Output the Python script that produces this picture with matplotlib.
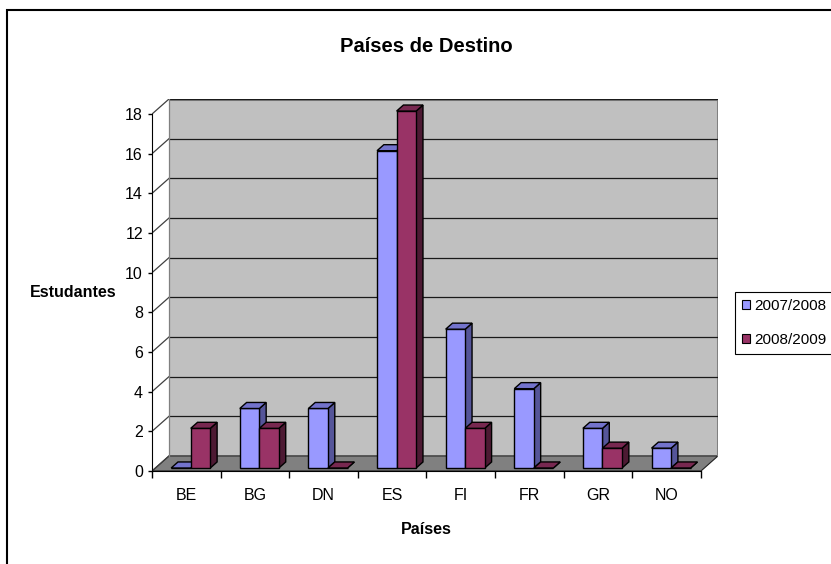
import matplotlib.pyplot as plt
from matplotlib.patches import Polygon, Rectangle, Patch

# ---------------------------------------------------------------------
# Data
# ---------------------------------------------------------------------
paises = ["BE", "BG", "DN", "ES", "FI", "FR", "GR", "NO"]
series_names = ["2007/2008", "2008/2009"]
v_2007 = [0, 3, 3, 16, 7, 4, 2, 1]
v_2008 = [2, 2, 0, 18, 2, 0, 1, 0]
yticks = list(range(0, 19, 2))

# face colours: front, top, side
blue_faces = ("#9999FF", "#7373CC", "#555599")
red_faces = ("#993366", "#772850", "#4D1A33")

# 3d look (in data units)
DX, DY = 0.248, 0.76       # depth offset of the back wall
D0, D1 = 0.2, 0.6          # depth range occupied by the bars
BAR_W = 0.285
GROUP_START = -0.27

plt.rcParams["font.family"] = ["Liberation Sans", "DejaVu Sans"]

fig = plt.figure(figsize=(8.31, 5.64), dpi=100)
ax = fig.add_axes([152 / 831, 1 - 471 / 564, 566 / 831, 372 / 564])
n = len(paises)
ymax = yticks[-1]
ax.set_xlim(0, n + DX)
ax.set_ylim(0, ymax + DY)
ax.patch.set_visible(False)


# ---------------------------------------------------------------------
# Walls, floor and gridlines
# ---------------------------------------------------------------------
floor = Polygon([(0, 0), (n, 0), (n + DX, DY), (DX, DY)], closed=True,
                facecolor="#808080", edgecolor="#202020", lw=0.8, zorder=1)
ax.add_patch(floor)
wall = Rectangle((DX, DY), n, ymax, facecolor="#C0C0C0", edgecolor="none", zorder=0)
ax.add_patch(wall)
ax.plot([DX, n + DX, n + DX], [ymax + DY, ymax + DY, DY], color="#808080",
        lw=2.2, zorder=1, solid_capstyle="butt")

for v in yticks:
    if v > 0:
        ax.plot([DX, n + DX], [v + DY, v + DY], color="#1a1a1a", lw=0.9, zorder=1)
    ax.plot([0, DX], [v, v + DY], color="#404040", lw=0.9, zorder=1)
ax.plot([DX, DX], [DY, ymax + DY], color="#808080", lw=0.9, zorder=1)


# ---------------------------------------------------------------------
# Bars
# ---------------------------------------------------------------------
def draw_bar(x0, h, faces):
    front_c, top_c, side_c = faces
    dd = D1 - D0
    fx, fy = x0 + D0 * DX, D0 * DY
    ex, ey = dd * DX, dd * DY
    kw = dict(edgecolor="black", lw=1.0, zorder=3, joinstyle="miter")
    side = Polygon([(fx + BAR_W, fy), (fx + BAR_W + ex, fy + ey),
                    (fx + BAR_W + ex, fy + h + ey), (fx + BAR_W, fy + h)],
                   facecolor=side_c, **kw)
    front = Rectangle((fx, fy), BAR_W, h, facecolor=front_c, **kw)
    top = Polygon([(fx, fy + h), (fx + BAR_W, fy + h),
                   (fx + BAR_W + ex, fy + h + ey), (fx + ex, fy + h + ey)],
                  facecolor=top_c, **kw)
    for p in (side, front, top):
        ax.add_patch(p)


for i in range(n):
    x_blue = i + 0.5 + GROUP_START
    draw_bar(x_blue, v_2007[i], blue_faces)
    draw_bar(x_blue + BAR_W, v_2008[i], red_faces)


# ---------------------------------------------------------------------
# Axes styling
# ---------------------------------------------------------------------
for side in ("top", "right"):
    ax.spines[side].set_visible(False)
ax.spines["left"].set_bounds(0, ymax)
ax.spines["bottom"].set_bounds(0, n)
ax.spines["left"].set_zorder(4)

ax.set_yticks(yticks)
ax.tick_params(axis="y", length=3, width=1, pad=3.5, labelsize=11.5)
ax.set_xticks(range(n + 1))
ax.set_xticklabels([])
ax.set_xticks([i + 0.5 for i in range(n)], minor=True)
ax.set_xticklabels(paises, minor=True)
ax.tick_params(axis="x", which="major", length=5, width=1)
ax.tick_params(axis="x", which="minor", length=0, pad=12.5, labelsize=11.5)

fig.text(426 / 831, 1 - 47 / 564, "Países de Destino", ha="center", va="center",
         fontsize=14.5, fontweight="bold")
fig.text(73 / 831, 1 - 293 / 564, "Estudantes", ha="center", va="center",
         fontsize=11.5, fontweight="bold")
fig.text(426 / 831, 1 - 530 / 564, "Países", ha="center", va="center",
         fontsize=11.5, fontweight="bold")

handles = [Patch(facecolor=blue_faces[0], edgecolor="black", lw=0.8, label=series_names[0]),
           Patch(facecolor=red_faces[0], edgecolor="black", lw=0.8, label=series_names[1])]
leg = fig.legend(handles=handles, loc="upper left",
                 bbox_to_anchor=(735 / 831, 1 - 292 / 564), fontsize=11,
                 frameon=True, fancybox=False, edgecolor="black", framealpha=1,
                 handlelength=0.55, handleheight=0.55, handletextpad=0.25,
                 labelspacing=1.3, borderpad=0.45, borderaxespad=0)
leg.get_frame().set_linewidth(0.8)

# chart area border (runs off the right and bottom edges)
fig.add_artist(Rectangle((7 / 831, -0.05), 1.0, 1 - 10 / 564 + 0.05,
                         transform=fig.transFigure, fill=False,
                         edgecolor="black", lw=1.5))

fig.savefig("out.png", dpi=100)
